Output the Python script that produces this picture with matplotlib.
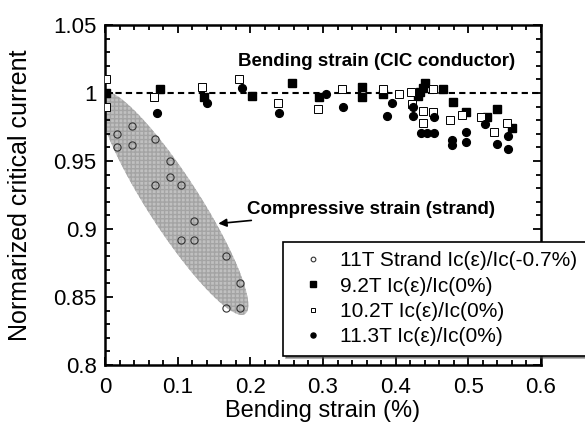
import numpy as np
import matplotlib
matplotlib.use('Agg')
import matplotlib.pyplot as plt
from matplotlib.patches import Polygon
from matplotlib.ticker import MultipleLocator, FuncFormatter

plt.rcParams['font.family'] = ['Liberation Sans', 'DejaVu Sans']

# 11T strand, Ic(e)/Ic(-0.7%)  (compressive strain)
strand_x = [0.016, 0.017, 0.037, 0.037, 0.069, 0.069, 0.090, 0.090, 0.104,
            0.123, 0.104, 0.123, 0.166, 0.186, 0.166, 0.186]
strand_y = [0.970, 0.9605, 0.976, 0.962, 0.966, 0.932, 0.950, 0.9385, 0.932,
            0.906, 0.892, 0.892, 0.880, 0.860, 0.842, 0.842]

# 9.2T Ic(e)/Ic(0%)
b92_x = [0.001, 0.076, 0.136, 0.202, 0.258, 0.2945, 0.354, 0.354, 0.383,
         0.431, 0.434, 0.437, 0.441, 0.4647, 0.4785, 0.4968, 0.525, 0.540, 0.5596]
b92_y = [1.000, 1.003, 0.997, 0.998, 1.0076, 0.9968, 1.0046, 0.9973, 0.9993,
         0.9975, 1.001, 1.004, 1.0076, 1.0027, 0.9936, 0.986, 0.982, 0.988, 0.974]

# 10.2T Ic(e)/Ic(0%)
b102_x = [0.001, 0.001, 0.067, 0.133, 0.185, 0.2385, 0.293, 0.3257, 0.383,
          0.4046, 0.4207, 0.422, 0.438, 0.438, 0.451, 0.451, 0.4748, 0.491,
          0.517, 0.535, 0.5528]
b102_y = [1.010, 0.990, 0.997, 1.0046, 1.010, 0.9924, 0.988, 1.003, 1.0027,
          0.9993, 1.0005, 0.992, 0.987, 0.9777, 1.003, 0.986, 0.980, 0.984,
          0.982, 0.9716, 0.9777]

# 11.3T Ic(e)/Ic(0%)
b113_x = [0.071, 0.141, 0.188, 0.239, 0.304, 0.328, 0.3876, 0.3945, 0.4234,
          0.4234, 0.4344, 0.4427, 0.4527, 0.4527, 0.477, 0.477, 0.4963, 0.4963,
          0.523, 0.540, 0.555, 0.555]
b113_y = [0.985, 0.993, 1.004, 0.985, 0.9993, 0.9895, 0.983, 0.9924, 0.990,
          0.983, 0.9708, 0.9708, 0.9708, 0.9826, 0.9655, 0.962, 0.971, 0.9642,
          0.977, 0.9625, 0.9684, 0.9586]

fig = plt.figure(figsize=(5.85, 4.24), dpi=100)
ax = fig.add_axes([0.1795, 0.1392, 0.7453, 0.8018])
ax.set_xlim(0, 0.6)
ax.set_ylim(0.8, 1.05)

# shaded band around the strand data (ellipse built in screen space)
p1 = ax.transData.transform((-0.004, 1.0007))
p2 = ax.transData.transform((0.1927, 0.8375))
c = (p1 + p2) / 2
d = p2 - p1
a = np.hypot(d[0], d[1]) / 2
b = 26 * fig.dpi / 100
ang = np.arctan2(d[1], d[0])
t = np.linspace(0, 2 * np.pi, 200)
ex = c[0] + a * np.cos(t) * np.cos(ang) - b * np.sin(t) * np.sin(ang)
ey = c[1] + a * np.cos(t) * np.sin(ang) + b * np.sin(t) * np.cos(ang)
pts = ax.transData.inverted().transform(np.column_stack([ex, ey]))
ax.add_patch(Polygon(pts, closed=True, facecolor='#c0c0c0', edgecolor='#a4a4a4',
                     hatch='++++', lw=0, zorder=1))

ax.axhline(1.0, color='black', lw=1.5, ls=(0, (3, 2)), zorder=2)

l1, = ax.plot(strand_x, strand_y, 'o', ms=5.2, mfc='none', mec='#333333', mew=0.8,
              label='11T Strand Ic(ε)/Ic(-0.7%)', zorder=3)
l2, = ax.plot(b92_x, b92_y, 's', ms=5.6, mfc='black', mec='black',
              label='9.2T Ic(ε)/Ic(0%)', zorder=4)
l3, = ax.plot(b102_x, b102_y, 's', ms=5.4, mfc='white', mec='black', mew=0.7,
              label='10.2T Ic(ε)/Ic(0%)', zorder=4)
l4, = ax.plot(b113_x, b113_y, 'o', ms=5.6, mfc='black', mec='black',
              label='11.3T Ic(ε)/Ic(0%)', zorder=4)

ax.text(0.183, 1.023, 'Bending strain (CIC conductor)', fontsize=13.5,
        fontweight='bold', va='center', ha='left')
ax.annotate('Compressive strain (strand)', xy=(0.156, 0.904), xytext=(0.1955, 0.9147),
            fontsize=13.5, fontweight='bold', va='center', ha='left',
            arrowprops=dict(arrowstyle='-|>', color='black', lw=1.2,
                            mutation_scale=12, shrinkA=1, shrinkB=0))

ax.xaxis.set_major_locator(MultipleLocator(0.1))
ax.xaxis.set_minor_locator(MultipleLocator(0.02))
ax.yaxis.set_major_locator(MultipleLocator(0.05))
ax.yaxis.set_minor_locator(MultipleLocator(0.01))
fmt = FuncFormatter(lambda v, p: '%g' % round(v, 3))
ax.xaxis.set_major_formatter(fmt)
ax.yaxis.set_major_formatter(fmt)
ax.tick_params(which='both', direction='in', top=True, right=True, width=1.3,
               labelsize=16)
ax.tick_params(which='major', length=6)
ax.tick_params(which='minor', length=3.5)
ax.tick_params(axis='x', pad=9)
ax.tick_params(axis='y', pad=6)
for s in ax.spines.values():
    s.set_linewidth(1.8)

ax.set_xlabel('Bending strain (%)', fontsize=17, labelpad=1)
ax.set_ylabel('Normarized critical current', fontsize=18, labelpad=15)

leg = fig.legend(handles=[l1, l2, l3, l4], loc='upper left',
                 bbox_to_anchor=(283 / 585, 1 - 242 / 424), borderaxespad=0,
                 fontsize=15, frameon=True, fancybox=False, shadow=True,
                 framealpha=1, edgecolor='black', markerscale=0.65,
                 handlelength=2.0, handletextpad=0.3, labelspacing=0.3,
                 borderpad=0.45)
leg.get_frame().set_linewidth(1.2)

fig.savefig('out.png', dpi=100)
